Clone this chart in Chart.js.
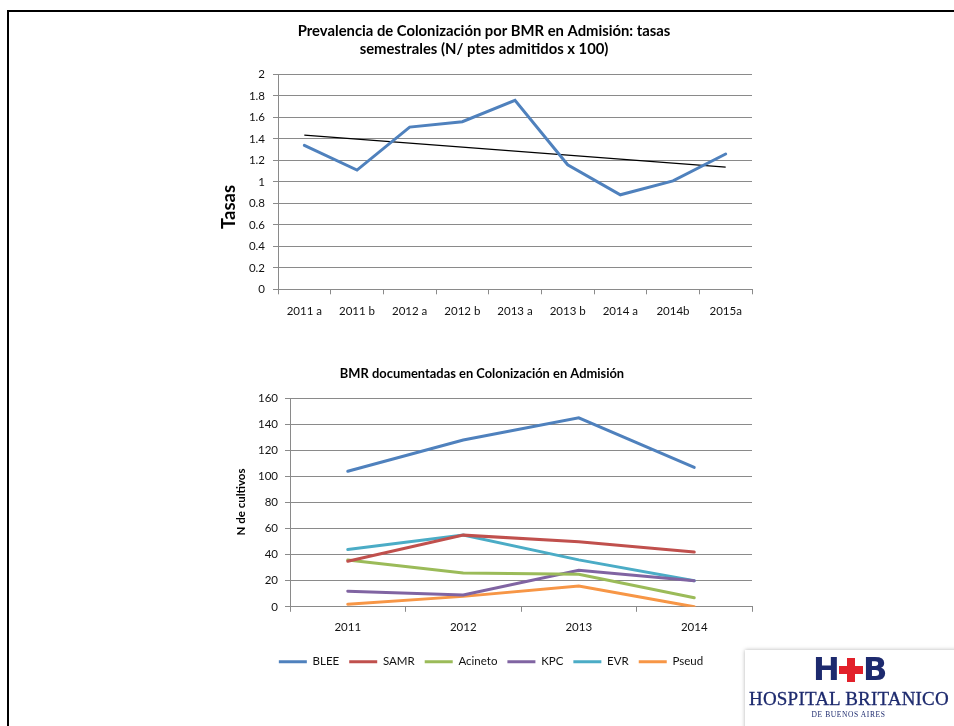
<!DOCTYPE html>
<html>
<head>
<meta charset="utf-8">
<script src="https://cdn.jsdelivr.net/npm/chart.js@4/dist/chart.umd.min.js"></script>
<style>
  html, body { margin:0; padding:0; background:#fff; }
  body { width:954px; height:726px; position:relative; overflow:hidden; font-family: Lato, "Liberation Sans", sans-serif; }
  canvas { position:absolute; left:0; }
  #c1 { top:0; }
  #c2 { top:345px; }
  #frame { position:absolute; left:7px; top:10px; right:-5px; bottom:-5px; border-left:2px solid #000; border-top:2px solid #000; pointer-events:none; z-index:5; }
  #logo { position:absolute; left:745px; top:650px; width:215px; height:80px; background:#fff; box-shadow:0 0 4px rgba(0,0,0,0.3); z-index:6; }
  .hb { position:absolute; top:4px; font-family:"DejaVu Sans", sans-serif; font-weight:bold; font-size:32px; color:#1d2a6e; line-height:31px; }
  .crossbg { position:absolute; left:92px; top:6px; width:28px; height:28px; border-radius:50%; background:#fff; }
  .cv { position:absolute; left:102px; top:8px; width:8px; height:24px; background:#e2202a; }
  .ch { position:absolute; left:94px; top:16px; width:24px; height:8px; background:#e2202a; }
  .name { position:absolute; left:4px; top:38px; font-family:"Liberation Serif", serif; font-size:19px; color:#1d2a6e; white-space:nowrap; letter-spacing:0.2px; -webkit-text-stroke:0.3px #1d2a6e; }
  .sub { position:absolute; left:0; width:207px; text-align:center; top:60px; font-family:"Liberation Serif", serif; font-size:7.5px; color:#1d2a6e; letter-spacing:0.6px; white-space:nowrap; }
</style>
</head>
<body>
<canvas id="c1" width="954" height="345"></canvas>
<canvas id="c2" width="954" height="381"></canvas>
<div id="frame"></div>
<div id="logo">
  <div class="hb" style="left:68px;">H</div>
  <div class="crossbg"></div>
  <div class="cv"></div>
  <div class="ch"></div>
  <div class="hb" style="left:118px;">B</div>
  <div class="name">HOSPITAL BRITANICO</div>
  <div class="sub">DE BUENOS AIRES</div>
</div>
<script>
// ---- Data (top chart) ----
const semestres = ['2011 a','2011 b','2012 a','2012 b','2013 a','2013 b','2014 a','2014b','2015a'];
const tasas = [1.34, 1.11, 1.51, 1.56, 1.76, 1.16, 0.88, 1.01, 1.26];
const tendencia = [1.435, null, null, null, null, null, null, null, 1.137];
const yTicksTasas = ['0','0.2','0.4','0.6','0.8','1','1.2','1.4','1.6','1.8','2'];

// ---- Data (bottom chart) ----
const anios = ['2011','2012','2013','2014'];
const blee = [104, 128, 145, 107];
const samr = [35, 55, 50, 42];
const acineto = [36, 26, 25, 7];
const kpc = [12, 9, 28, 20];
const evr = [44, 55, 36, 20];
const pseud = [2, 8, 16, 0];
const yTicksCultivos = ['0','20','40','60','80','100','120','140','160'];

const GRID = '#8a8a8a';
const TXT = '#111';
const FONT = 'Lato';

const textPlugin = {
  id: 'freeTexts',
  afterDraw(chart, args, opts) {
    const ctx = chart.ctx;
    (opts.items || []).forEach(t => {
      ctx.save();
      ctx.font = t.font;
      ctx.fillStyle = '#000';
      ctx.textAlign = 'center';
      ctx.textBaseline = 'middle';
      ctx.translate(t.x, t.y);
      if (t.rotate) ctx.rotate(t.rotate);
      ctx.fillText(t.text, 0, 0);
      ctx.restore();
    });
  }
};

function yFit(w) { return s => { s.width = w; s.paddingTop = 0; s.paddingBottom = 0; }; }
function xFit(h) { return s => { s.height = h; s.paddingLeft = 0; s.paddingRight = 0; }; }

new Chart(document.getElementById('c1'), {
  type: 'line',
  data: {
    labels: semestres,
    datasets: [
      { label: 'Tasas', data: tasas, borderColor: '#4f81bd', backgroundColor: '#4f81bd', borderWidth: 3, pointRadius: 0, tension: 0, borderCapStyle: 'round' },
      { label: 'Tendencia', data: tendencia, borderColor: '#000', backgroundColor: '#000', borderWidth: 1.2, pointRadius: 0, spanGaps: true, tension: 0 }
    ]
  },
  options: {
    responsive: false,
    animation: false,
    layout: { padding: { left: 218, right: 202, top: 74.5, bottom: 10.7 } },
    plugins: {
      legend: { display: false },
      tooltip: { enabled: false },
      freeTexts: { items: [
        { text: 'Prevalencia de Colonización por BMR en Admisión: tasas', x: 484, y: 31.5, font: 'bold 14.8px ' + FONT },
        { text: 'semestrales (N/ ptes admitidos x 100)', x: 484, y: 49, font: 'bold 14.8px ' + FONT },
        { text: 'Tasas', x: 229, y: 207, font: 'bold 18.5px ' + FONT, rotate: -Math.PI/2 }
      ] }
    },
    scales: {
      x: {
        offset: true,
        afterFit: xFit(45),
        grid: { display: true, drawOnChartArea: false, drawTicks: true, tickLength: 5, color: GRID, offset: true },
        border: { display: true, color: GRID, width: 1 },
        ticks: { color: TXT, font: { family: FONT, size: 11.5 }, padding: 10, maxRotation: 0, autoSkip: false }
      },
      y: {
        min: 0, max: 2,
        afterFit: yFit(60),
        ticks: { stepSize: 0.2, color: TXT, font: { family: FONT, size: 11.5 }, padding: 8, callback: (v, i) => yTicksTasas[i] },
        grid: { color: GRID, tickLength: 5, drawTicks: true },
        border: { display: true, color: GRID, width: 1 }
      }
    }
  },
  plugins: [textPlugin]
});

const colors = { BLEE: '#4f81bd', SAMR: '#c0504d', Acineto: '#9bbb59', KPC: '#8064a2', EVR: '#4bacc6', Pseud: '#f79646' };
function ds(label, data) {
  return { label, data, borderColor: colors[label], backgroundColor: colors[label], borderWidth: 3, pointRadius: 0, pointStyle: 'line', tension: 0, borderCapStyle: 'round' };
}

new Chart(document.getElementById('c2'), {
  type: 'line',
  data: {
    labels: anios,
    datasets: [ ds('BLEE', blee), ds('SAMR', samr), ds('Acineto', acineto), ds('KPC', kpc), ds('EVR', evr), ds('Pseud', pseud) ]
  },
  options: {
    responsive: false,
    animation: false,
    layout: { padding: { left: 230, right: 202, top: 53.3, bottom: 48.5 } },
    plugins: {
      tooltip: { enabled: false },
      legend: {
        position: 'bottom',
        labels: { usePointStyle: true, pointStyle: 'line', pointStyleWidth: 28, font: { family: FONT, size: 11.5 }, color: TXT, padding: 10 }
      },
      freeTexts: { items: [
        { text: 'BMR documentadas en Colonización en Admisión', x: 482, y: 29, font: 'bold 12.9px ' + FONT },
        { text: 'N de cultivos', x: 241, y: 157, font: 'bold 11.5px ' + FONT, rotate: -Math.PI/2 }
      ] }
    },
    scales: {
      x: {
        offset: true,
        afterFit: xFit(39.2),
        grid: { display: true, drawOnChartArea: false, drawTicks: true, tickLength: 5, color: GRID, offset: true },
        border: { display: true, color: GRID, width: 1 },
        ticks: { color: TXT, font: { family: FONT, size: 11.5 }, padding: 9, maxRotation: 0, autoSkip: false }
      },
      y: {
        min: 0, max: 160,
        afterFit: yFit(60),
        ticks: { stepSize: 20, color: TXT, font: { family: FONT, size: 11.5 }, padding: 7, callback: (v, i) => yTicksCultivos[i] },
        grid: { color: GRID, tickLength: 5, drawTicks: true },
        border: { display: true, color: GRID, width: 1 }
      }
    }
  },
  plugins: [textPlugin]
});
</script>
</body>
</html>
